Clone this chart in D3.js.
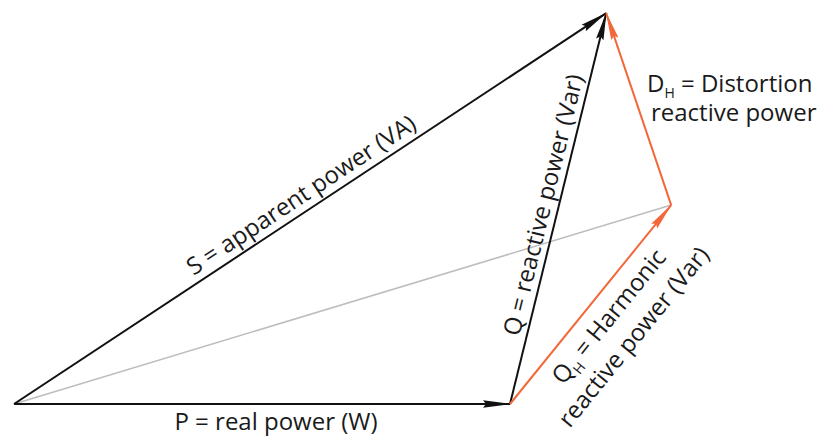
<!DOCTYPE html>
<html lang="en">
<head>
<meta charset="utf-8">
<title>Power triangle with harmonics</title>
<script src="https://d3js.org/d3.v7.min.js"></script>
<style>
  body { margin: 0; background: #fff; }
  text { font-family: "Open Sans", sans-serif; font-size: 24px; fill: #1a1a1a; }
</style>
</head>
<body>
<script>
var width = 825, height = 438;

// points of the diagram, in units where P = 100
var pointNames = ["O", "P", "S", "H"];
var pointX = [0, 100, 119.4, 132.5];
var pointY = [0, 0, 78.8, 40.1];

// vectors: from, to, colour kind
var vecNames = ["P", "S", "Q", "QH", "DH", "G"];
var vecFrom  = ["O", "O", "P", "P", "H", "O"];
var vecTo    = ["P", "S", "S", "H", "S", "H"];
var vecKind  = ["black", "black", "black", "orange", "orange", "gray"];

var colors = { black: "#111", orange: "#f2683a", gray: "#bdbdbd" };

var x = d3.scaleLinear().domain([0, 100]).range([14, 510]);
var y = d3.scaleLinear().domain([0, 100]).range([404, -92]);

function pt(name) {
  var i = pointNames.indexOf(name);
  return [x(pointX[i]), y(pointY[i])];
}

var svg = d3.select("body").append("svg")
  .attr("width", width)
  .attr("height", height);

var defs = svg.append("defs");
["black", "orange"].forEach(function(k) {
  defs.append("marker")
    .attr("id", "arrow-" + k)
    .attr("markerUnits", "userSpaceOnUse")
    .attr("viewBox", "0 -5 28 10")
    .attr("refX", 27)
    .attr("refY", 0)
    .attr("markerWidth", 28)
    .attr("markerHeight", 10)
    .attr("orient", "auto")
    .append("path")
    .attr("d", "M0,-3.8L28,0L0,3.8L3,0Z")
    .attr("fill", colors[k]);
});

var vecs = vecNames.map(function(n, i) {
  return { name: n, a: pt(vecFrom[i]), b: pt(vecTo[i]), kind: vecKind[i] };
});

// gray first so it sits underneath
svg.append("g").selectAll("line")
  .data(vecs.slice().sort(function(a, b) { return (b.kind === "gray") - (a.kind === "gray"); }))
  .enter().append("line")
  .attr("x1", function(d) { return d.a[0]; })
  .attr("y1", function(d) { return d.a[1]; })
  .attr("x2", function(d) { return d.b[0]; })
  .attr("y2", function(d) { return d.b[1]; })
  .attr("stroke", function(d) { return colors[d.kind]; })
  .attr("stroke-width", function(d) { return d.kind === "gray" ? 1.6 : 2; })
  .attr("marker-end", function(d) { return d.kind === "gray" ? null : "url(#arrow-" + d.kind + ")"; });

// label along a vector: t = fraction along, lines[].y = offset across the vector
function along(name, t, shift, lines) {
  var v = vecs[vecNames.indexOf(name)];
  var dx = v.b[0] - v.a[0], dy = v.b[1] - v.a[1];
  var ang = Math.atan2(dy, dx) * 180 / Math.PI;
  var cx = v.a[0] + dx * t, cy = v.a[1] + dy * t;
  var g = svg.append("g")
    .attr("transform", "translate(" + cx + "," + cy + ") rotate(" + ang + ")");
  lines.forEach(function(l) {
    var tx = g.append("text")
      .attr("x", shift)
      .attr("y", l.y)
      .attr("text-anchor", "middle");
    l.parts.forEach(function(p) {
      var s = tx.append("tspan").text(p[0]);
      if (p[1] === "sub") s.attr("font-size", 14).attr("dy", 6);
      if (p[1] === "up") s.attr("dy", -6);
    });
  });
}

// P label
svg.append("text")
  .attr("x", 276)
  .attr("y", 430)
  .attr("text-anchor", "middle")
  .text("P = real power (W)");

along("S", 0.5, 0, [{ y: -8, parts: [["S = apparent power (VA)"]] }]);
along("Q", 0.5, 0, [{ y: -7, parts: [["Q = reactive power (Var)"]] }]);
along("QH", 0.52, -3, [
  { y: 30, parts: [["Q"], ["H", "sub"], [" = Harmonic", "up"]] },
  { y: 62, parts: [["reactive power (Var)"]] }
]);

var dh = svg.append("text").attr("x", 647).attr("y", 92);
dh.append("tspan").text("D");
dh.append("tspan").attr("font-size", 14).attr("dy", 6).text("H");
dh.append("tspan").attr("dy", -6).text(" = Distortion");
svg.append("text").attr("x", 651).attr("y", 121).text("reactive power");
</script>
</body>
</html>
